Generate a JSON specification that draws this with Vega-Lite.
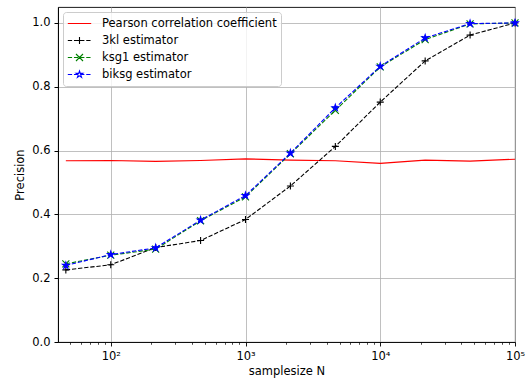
{
  "$schema": "https://vega.github.io/schema/vega-lite/v6.json",
  "width": 457,
  "height": 335,
  "autosize": "none",
  "padding": {"left": 58, "top": 7, "right": 16, "bottom": 42},
  "background": "white",
  "data": {
    "values": [
      {"N": 46.42, "series": "Pearson correlation coefficient", "value": 0.568},
      {"N": 100, "series": "Pearson correlation coefficient", "value": 0.569},
      {"N": 215.4, "series": "Pearson correlation coefficient", "value": 0.566},
      {"N": 464.2, "series": "Pearson correlation coefficient", "value": 0.569},
      {"N": 1000, "series": "Pearson correlation coefficient", "value": 0.574},
      {"N": 2154, "series": "Pearson correlation coefficient", "value": 0.570},
      {"N": 4642, "series": "Pearson correlation coefficient", "value": 0.568},
      {"N": 10000, "series": "Pearson correlation coefficient", "value": 0.560},
      {"N": 21544, "series": "Pearson correlation coefficient", "value": 0.570},
      {"N": 46416, "series": "Pearson correlation coefficient", "value": 0.567},
      {"N": 100000, "series": "Pearson correlation coefficient", "value": 0.573},

      {"N": 46.42, "series": "3kl estimator", "value": 0.226},
      {"N": 100, "series": "3kl estimator", "value": 0.242},
      {"N": 215.4, "series": "3kl estimator", "value": 0.296},
      {"N": 464.2, "series": "3kl estimator", "value": 0.318},
      {"N": 1000, "series": "3kl estimator", "value": 0.384},
      {"N": 2154, "series": "3kl estimator", "value": 0.489},
      {"N": 4642, "series": "3kl estimator", "value": 0.613},
      {"N": 10000, "series": "3kl estimator", "value": 0.752},
      {"N": 21544, "series": "3kl estimator", "value": 0.881},
      {"N": 46416, "series": "3kl estimator", "value": 0.962},
      {"N": 100000, "series": "3kl estimator", "value": 1.0},

      {"N": 46.42, "series": "ksg1 estimator", "value": 0.245},
      {"N": 100, "series": "ksg1 estimator", "value": 0.272},
      {"N": 215.4, "series": "ksg1 estimator", "value": 0.291},
      {"N": 464.2, "series": "ksg1 estimator", "value": 0.380},
      {"N": 1000, "series": "ksg1 estimator", "value": 0.455},
      {"N": 2154, "series": "ksg1 estimator", "value": 0.590},
      {"N": 4642, "series": "ksg1 estimator", "value": 0.726},
      {"N": 10000, "series": "ksg1 estimator", "value": 0.862},
      {"N": 21544, "series": "ksg1 estimator", "value": 0.948},
      {"N": 46416, "series": "ksg1 estimator", "value": 0.997},
      {"N": 100000, "series": "ksg1 estimator", "value": 1.0},

      {"N": 46.42, "series": "biksg estimator", "value": 0.240},
      {"N": 100, "series": "biksg estimator", "value": 0.274},
      {"N": 215.4, "series": "biksg estimator", "value": 0.295},
      {"N": 464.2, "series": "biksg estimator", "value": 0.382},
      {"N": 1000, "series": "biksg estimator", "value": 0.459},
      {"N": 2154, "series": "biksg estimator", "value": 0.592},
      {"N": 4642, "series": "biksg estimator", "value": 0.734},
      {"N": 10000, "series": "biksg estimator", "value": 0.864},
      {"N": 21544, "series": "biksg estimator", "value": 0.953},
      {"N": 46416, "series": "biksg estimator", "value": 0.998},
      {"N": 100000, "series": "biksg estimator", "value": 1.0}
    ]
  },
  "encoding": {
    "x": {
      "field": "N",
      "type": "quantitative",
      "scale": {"type": "log", "domain": [40.6, 100000], "nice": false},
      "axis": {
        "title": "samplesize N",
        "values": [50, 60, 70, 80, 90, 100, 200, 300, 400, 500, 600, 700, 800, 900, 1000, 2000, 3000, 4000, 5000, 6000, 7000, 8000, 9000, 10000, 20000, 30000, 40000, 50000, 60000, 70000, 80000, 90000, 100000],
        "labelExpr": "datum.value == 100 ? '10²' : datum.value == 1000 ? '10³' : datum.value == 10000 ? '10⁴' : datum.value == 100000 ? '10⁵' : ''",
        "labelOverlap": false,
        "labelBound": false,
        "labelFlush": false,
        "labelPadding": 4,
        "titlePadding": 4,
        "tickSize": {"condition": {"test": "indexof([100, 1000, 10000, 100000], datum.value) >= 0", "value": 4}, "value": 2.3},
        "tickWidth": {"condition": {"test": "indexof([100, 1000, 10000, 100000], datum.value) >= 0", "value": 0.9}, "value": 0.7},
        "gridOpacity": {"condition": {"test": "indexof([100, 1000, 10000, 100000], datum.value) >= 0", "value": 1}, "value": 0}
      }
    },
    "y": {
      "field": "value",
      "type": "quantitative",
      "scale": {"domain": [0, 1.05], "nice": false, "zero": false},
      "axis": {
        "title": "Precision",
        "values": [0, 0.2, 0.4, 0.6, 0.8, 1.0],
        "format": ".1f",
        "tickSize": 4,
        "labelPadding": 4,
        "titlePadding": 6
      }
    }
  },
  "layer": [
    {
      "transform": [{"filter": "datum.series === 'Pearson correlation coefficient'"}],
      "mark": {"type": "line", "color": "#ff0000", "strokeWidth": 1.1}
    },
    {
      "transform": [{"filter": "datum.series === '3kl estimator'"}],
      "mark": {"type": "line", "color": "#000000", "strokeWidth": 1.1, "strokeDash": [4.3, 1.85]}
    },
    {
      "transform": [{"filter": "datum.series === '3kl estimator'"}],
      "mark": {"type": "point", "shape": "M-1,0H1M0,-1V1", "size": 49, "filled": false, "color": "#000000", "strokeWidth": 1.1, "opacity": 1}
    },
    {
      "transform": [{"filter": "datum.series === 'ksg1 estimator'"}],
      "mark": {"type": "line", "color": "#008000", "strokeWidth": 1.1, "strokeDash": [4.3, 1.85]}
    },
    {
      "transform": [{"filter": "datum.series === 'ksg1 estimator'"}],
      "mark": {"type": "point", "shape": "M-1,-1L1,1M-1,1L1,-1", "size": 49, "filled": false, "color": "#008000", "strokeWidth": 1.1, "opacity": 1}
    },
    {
      "transform": [{"filter": "datum.series === 'biksg estimator'"}],
      "mark": {"type": "line", "color": "#0000ff", "strokeWidth": 1.1, "strokeDash": [4.3, 1.85]}
    },
    {
      "transform": [{"filter": "datum.series === 'biksg estimator'"}],
      "mark": {"type": "point", "shape": "M0,-1L0.2245,-0.309L0.951,-0.309L0.3633,0.118L0.588,0.809L0,0.382L-0.588,0.809L-0.3633,0.118L-0.951,-0.309L-0.2245,-0.309Z", "size": 49, "filled": true, "fill": "#0000ff", "stroke": "#0000ff", "strokeWidth": 1.1, "opacity": 1}
    },
    {
      "transform": [{"filter": "datum.value > 2"}],
      "mark": {"type": "point", "filled": false, "size": 547, "strokeWidth": 1.1, "opacity": 1},
      "encoding": {
        "x": {"field": "N", "type": "quantitative"},
        "y": {"field": "value", "type": "quantitative"},
        "color": {
          "field": "series",
          "type": "nominal",
          "scale": {
            "domain": ["Pearson correlation coefficient", "3kl estimator", "ksg1 estimator", "biksg estimator"],
            "range": ["#ff0000", "#000000", "#008000", "#0000ff"]
          },
          "legend": {
            "title": null,
            "orient": "top-left",
            "offset": 5,
            "padding": 4,
            "fillColor": "rgba(255,255,255,0.8)",
            "strokeColor": "#cccccc",
            "cornerRadius": 3,
            "symbolSize": 547,
            "symbolStrokeWidth": 1.1,
            "symbolOffset": 0,
            "labelOffset": 10,
            "labelFont": "DejaVu Sans",
            "labelFontSize": 11.5,
            "labelColor": "#000000",
            "clipHeight": 15,
            "rowPadding": 2,
            "labelLimit": 400,
            "encode": {
              "symbols": {
                "update": {
                  "fill": {"signal": "datum.value === 'biksg estimator' ? '#0000ff' : 'transparent'"},
                  "opacity": {"value": 1}
                }
              }
            }
          }
        },
        "shape": {
          "field": "series",
          "type": "nominal",
          "scale": {
            "domain": ["Pearson correlation coefficient", "3kl estimator", "ksg1 estimator", "biksg estimator"],
            "range": [
              "M-1,0H1",
              "M-1,0H-0.632M-0.474,0H-0.107M0.051,0H0.419M0.577,0H0.944M-0.3,0H0.3M0,-0.3V0.3",
              "M-1,0H-0.632M-0.474,0H-0.107M0.051,0H0.419M0.577,0H0.944M-0.3,-0.3L0.3,0.3M-0.3,0.3L0.3,-0.3",
              "M-1,0H-0.632M-0.474,0H-0.107M0.051,0H0.419M0.577,0H0.944M0,-0.3L0.0674,-0.0927L0.2853,-0.0927L0.109,0.0354L0.1764,0.2427L0,0.1146L-0.1764,0.2427L-0.109,0.0354L-0.2853,-0.0927L-0.0674,-0.0927Z"
            ]
          },
          "legend": null
        }
      }
    }
  ],
  "config": {
    "view": {"stroke": "#000000", "strokeWidth": 0.9},
    "axis": {
      "domainColor": "#000000",
      "domainWidth": 0.9,
      "tickColor": "#000000",
      "grid": true,
      "gridColor": "#b0b0b0",
      "gridWidth": 0.8,
      "labelFont": "DejaVu Sans",
      "labelFontSize": 11.5,
      "labelColor": "#000000",
      "titleFont": "DejaVu Sans",
      "titleFontSize": 11.5,
      "titleFontWeight": "normal",
      "titleColor": "#000000"
    }
  }
}
